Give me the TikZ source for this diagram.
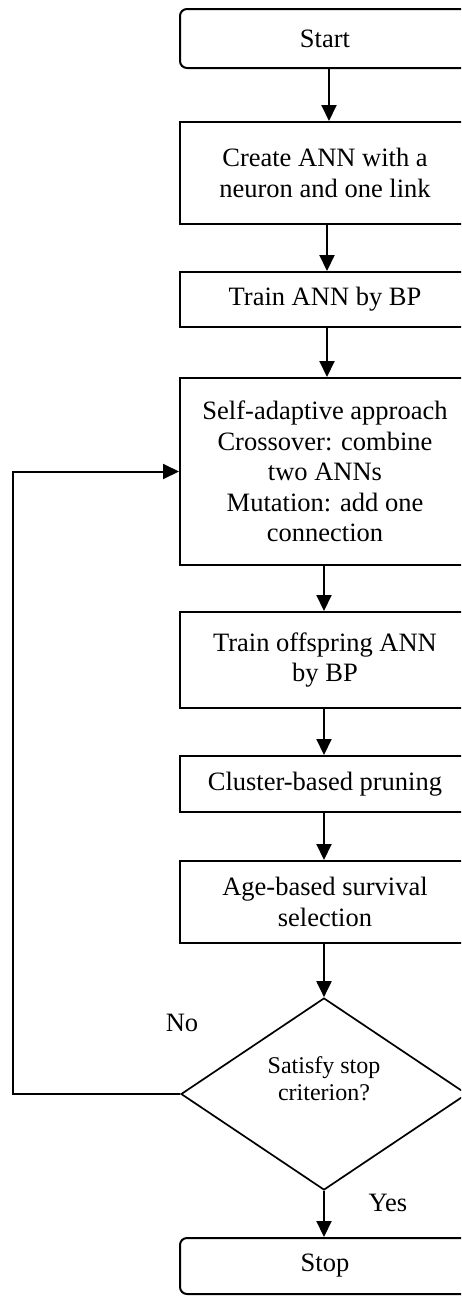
\documentclass[tikz,border=0pt]{standalone}
\usepackage{fontspec}
\setmainfont{Liberation Serif}
\usetikzlibrary{arrows.meta,shapes.geometric}
\tikzset{
  box/.style={draw, line width=2pt, minimum width=290pt, inner sep=0pt, align=center,
    font=\fontsize{26.5}{30.5}\selectfont},
  term/.style={box, rounded corners=7pt},
  dec/.style={draw, diamond, line width=1.7pt, minimum width=286pt, minimum height=192pt, inner sep=0pt},
  arr/.style={line width=2pt, -{Triangle[length=16pt,width=15pt]}},
  lbl/.style={font=\fontsize{26.5}{30}\selectfont, inner sep=0pt}
}
\begin{document}
\begin{tikzpicture}[x=1pt,y=-1pt]
\path[use as bounding box] (0,0) rectangle (461,1296);
\clip (0,0) rectangle (461,1296);
\node[term, minimum height=59pt] (start) at (325,38.5) {Start};
\node[box, minimum height=102pt] (create) at (325,173) {Create ANN with a\\neuron and one link};
\node[box, minimum height=55pt] (train) at (325,299.5) {Train ANN by BP};
\node[box, minimum height=187pt] (self) at (325,471.5) {Self-adaptive approach\\Crossover: combine\\two ANNs\\Mutation: add one\\connection};
\node[box, minimum height=96pt] (off) at (325,660) {Train offspring ANN\\by BP};
\node[box, minimum height=56pt] (clu) at (325,784) {Cluster-based pruning};
\node[box, minimum height=82pt] (age) at (325,902) {Age-based survival\\selection};
\node[dec] (dec) at (324,1094) {};
\node[align=center, inner sep=0pt, font=\fontsize{24}{27}\selectfont] (dectext) at (324,1079) {Satisfy stop\\criterion?};
\node[term, minimum height=56pt] (stop) at (325,1266) {Stop};
\node[lbl] (no) at (182,1023) {No};
\node[lbl] (yes) at (388,1203) {Yes};
\coordinate (lc) at (13,1094);
\draw[arr] ([xshift=4pt]start.south) -- ([xshift=4pt]create.north);
\draw[arr] ([xshift=2pt]create.south) -- ([xshift=2pt]train.north);
\draw[arr] ([xshift=2pt]train.south) -- ([xshift=2pt]self.north);
\draw[arr] ([xshift=-1pt]self.south) -- ([xshift=-1pt]off.north);
\draw[arr] ([xshift=-1pt]off.south) -- ([xshift=-1pt]clu.north);
\draw[arr] ([xshift=-1pt]clu.south) -- ([xshift=-1pt]age.north);
\draw[arr] ([xshift=-1pt]age.south) -- (dec.north);
\draw[arr] (dec.south) -- ([xshift=-1pt]stop.north);
\draw[arr] (dec.west) -- (lc) |- (self.west);
\end{tikzpicture}
\end{document}
